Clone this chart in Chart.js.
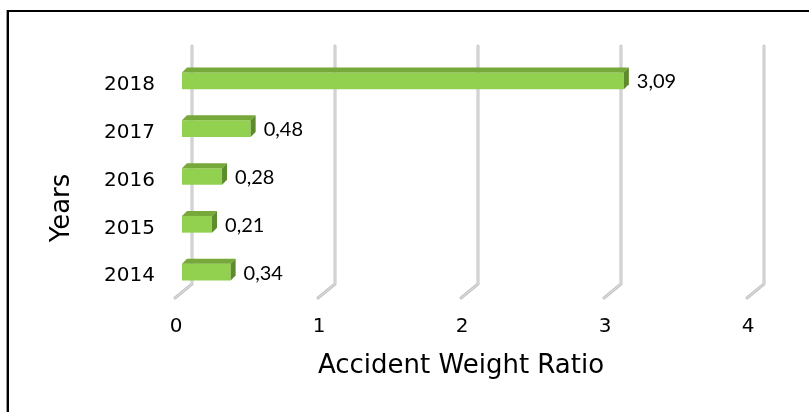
<!DOCTYPE html>
<html>
<head>
<meta charset="utf-8">
<script src="https://cdn.jsdelivr.net/npm/chart.js@4"></script>
<style>
  html, body { margin: 0; padding: 0; background: #fff; }
  #wrap { width: 809px; height: 412px; }
</style>
</head>
<body>
<div id="wrap"><canvas id="grafico" width="809" height="412"></canvas></div>
<script>
// dados
var anos = ["2014", "2015", "2016", "2017", "2018"];
var razao = [0.34, 0.21, 0.28, 0.48, 3.09];
var ticksX = [0, 1, 2, 3, 4];
var tituloX = "Accident Weight Ratio";
var tituloY = "Years";

var verde = '#92D050';
var verdeTopo = '#76A83A';
var verdeLado = '#5E8B2C';

// grade "3D" atras das barras
var grade3d = {
    id: 'grade3d',
    beforeDatasetsDraw: function (chart) {
        var ctx = chart.ctx;
        var x = chart.scales.x;
        ctx.save();
        ctx.lineCap = 'round';
        ctx.lineJoin = 'round';
        ticksX.forEach(function (v) {
            var px = x.getPixelForValue(v);
            ctx.beginPath();
            ctx.moveTo(px + 10, 46);
            ctx.lineTo(px + 10, 284);
            ctx.lineTo(px - 7, 298);
            ctx.strokeStyle = '#c4c4c4';
            ctx.lineWidth = 3;
            ctx.stroke();
            ctx.strokeStyle = '#e2e2e2';
            ctx.lineWidth = 1;
            ctx.stroke();
        });
        ctx.restore();
    }
};

// faces de cima e do lado + rotulos
var barras3d = {
    id: 'barras3d',
    afterDatasetsDraw: function (chart) {
        var ctx = chart.ctx;
        var d = 5;
        ctx.save();
        chart.getDatasetMeta(0).data.forEach(function (bar, i) {
            var p = bar.getProps(['x', 'y', 'base', 'height'], true);
            var top = p.y - p.height / 2;
            var bot = p.y + p.height / 2;
            // topo
            ctx.beginPath();
            ctx.moveTo(p.base, top);
            ctx.lineTo(p.base + d, top - d);
            ctx.lineTo(p.x + d, top - d);
            ctx.lineTo(p.x, top);
            ctx.closePath();
            ctx.fillStyle = verdeTopo;
            ctx.fill();
            // lado
            ctx.beginPath();
            ctx.moveTo(p.x, top);
            ctx.lineTo(p.x + d, top - d);
            ctx.lineTo(p.x + d, bot - d);
            ctx.lineTo(p.x, bot);
            ctx.closePath();
            ctx.fillStyle = verdeLado;
            ctx.fill();
            // rotulo
            ctx.fillStyle = '#000';
            ctx.font = '20px Lato';
            ctx.textAlign = 'left';
            ctx.textBaseline = 'middle';
            ctx.fillText(razao[i].toFixed(2).replace('.', ','), p.x + 13, p.y + 1);
        });
        ctx.restore();
    }
};

// titulos dos eixos e moldura
var extras = {
    id: 'extras',
    afterDraw: function (chart) {
        var ctx = chart.ctx;
        ctx.save();
        ctx.fillStyle = '#000';
        ctx.font = '26px "DejaVu Sans"';
        ctx.textAlign = 'center';
        ctx.textBaseline = 'middle';
        ctx.fillText(tituloX, 461, 366);
        ctx.translate(62, 208);
        ctx.rotate(-Math.PI / 2);
        ctx.fillText(tituloY, 0, 0);
        ctx.restore();

        ctx.save();
        ctx.strokeStyle = '#9a9a9a';
        ctx.lineWidth = 1;
        ctx.beginPath();
        ctx.moveTo(6.5, 412);
        ctx.lineTo(6.5, 10);
        ctx.stroke();
        ctx.strokeStyle = '#000';
        ctx.lineWidth = 2;
        ctx.beginPath();
        ctx.moveTo(8, 412);
        ctx.lineTo(8, 11);
        ctx.lineTo(809, 11);
        ctx.stroke();
        ctx.restore();
    }
};

var grafico = new Chart(document.getElementById('grafico'), {
    type: 'bar',
    data: {
        labels: anos,
        datasets: [{
            label: tituloX,
            data: razao,
            backgroundColor: verde,
            borderWidth: 0,
            barPercentage: 0.35,
            categoryPercentage: 1
        }]
    },
    options: {
        indexAxis: 'y',
        responsive: false,
        animation: false,
        layout: { padding: { top: 57, right: 55, left: 0, bottom: 0 } },
        plugins: {
            legend: { display: false },
            tooltip: { enabled: false }
        },
        scales: {
            x: {
                min: 0,
                max: 4,
                afterFit: function (s) { s.height = 116; },
                afterBuildTicks: function (s) {
                    s.ticks = ticksX.map(function (v) { return { value: v }; });
                },
                grid: { display: false, drawTicks: false },
                border: { display: false },
                ticks: {
                    color: '#000',
                    font: { family: 'DejaVu Sans', size: 20 },
                    padding: 19,
                    labelOffset: -6
                }
            },
            y: {
                reverse: true,
                afterFit: function (s) { s.width = 182; },
                grid: { display: false, drawTicks: false },
                border: { display: false },
                ticks: {
                    color: '#000',
                    font: { family: 'DejaVu Sans', size: 20 },
                    padding: 27,
                    labelOffset: 4
                }
            }
        }
    },
    plugins: [grade3d, barras3d, extras]
});
</script>
</body>
</html>
